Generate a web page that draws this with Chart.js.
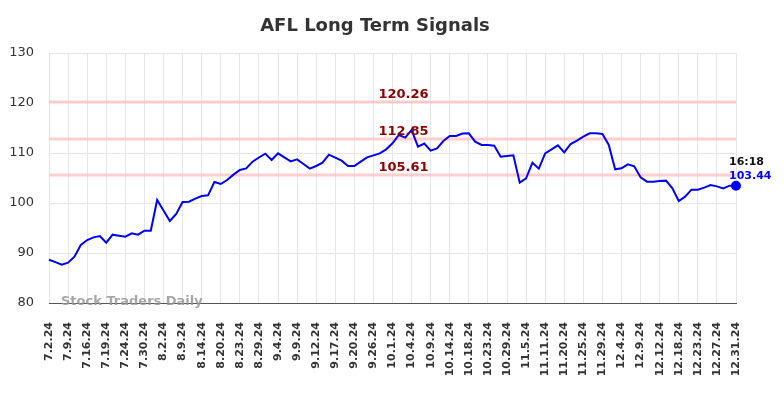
<!DOCTYPE html>
<html>
<head>
<meta charset="utf-8">
<script src="https://cdn.jsdelivr.net/npm/chart.js@4.4.1/dist/chart.umd.min.js"></script>
<style>
  html, body { margin: 0; padding: 0; background: #ffffff; }
  #wrap { width: 784px; height: 398px; position: relative; }
</style>
</head>
<body>
<div id="wrap"><canvas id="c" width="784" height="398"></canvas></div>
<script>
const chartTitle = "AFL Long Term Signals";
const watermark = "Stock Traders Daily";
const tickLabels = ["7.2.24","7.9.24","7.16.24","7.19.24","7.24.24","7.30.24","8.2.24","8.9.24","8.14.24","8.20.24","8.23.24","8.29.24","9.4.24","9.9.24","9.12.24","9.17.24","9.20.24","9.26.24","10.1.24","10.4.24","10.9.24","10.14.24","10.18.24","10.23.24","10.29.24","11.5.24","11.11.24","11.20.24","11.25.24","11.29.24","12.4.24","12.9.24","12.12.24","12.18.24","12.23.24","12.27.24","12.31.24"];
const pointsPerTick = 3;
const prices = [
  88.66, 88.17, 87.67, 88.07, 89.27, 91.6, 92.6, 93.13, 93.4, 92.07,
  93.67, 93.47, 93.27, 93.93, 93.67, 94.47, 94.47, 100.6, 98.5, 96.4,
  97.8, 100.2, 100.27, 100.87, 101.4, 101.53, 104.2, 103.8, 104.6, 105.67,
  106.6, 106.93, 108.27, 109.1, 109.87, 108.6, 109.93, 109.13, 108.33, 108.73,
  107.8, 106.87, 107.4, 108.07, 109.67, 109.07, 108.47, 107.4, 107.4, 108.27,
  109.13, 109.53, 109.93, 110.73, 111.93, 113.6, 113.07, 114.6, 111.27, 111.9,
  110.47, 110.93, 112.4, 113.4, 113.4, 113.9, 113.93, 112.27, 111.6, 111.6,
  111.47, 109.27, 109.4, 109.53, 104.07, 104.93, 108.07, 106.87, 109.93, 110.73,
  111.53, 110.13, 111.8, 112.47, 113.27, 113.93, 113.93, 113.8, 111.6, 106.73,
  106.93, 107.73, 107.33, 105.13, 104.27, 104.27, 104.4, 104.47, 102.93, 100.4,
  101.27, 102.67, 102.67, 103.07, 103.6, 103.33, 102.93, 103.47, 103.44
];
const signalLevels = [120.26, 112.85, 105.61];
const lastTime = "16:18";
const lastValueText = "103.44";
const yMin = 80, yMax = 130, yStep = 10;

// categories: one per data point, labelled where a tick label exists
const categories = [];
tickLabels.forEach((t, i) => {
  categories.push(t);
  if (i < tickLabels.length - 1) for (let k = 1; k < pointsPerTick; k++) categories.push('');
});

const FONT = "'DejaVu Sans', sans-serif";

const overlayPlugin = {
  id: 'overlay',
  beforeDatasetsDraw(chart) {
    const ctx = chart.ctx, y = chart.scales.y, area = chart.chartArea;
    ctx.save();
    ctx.strokeStyle = 'rgba(255,190,190,0.75)';
    ctx.lineWidth = 3;
    signalLevels.forEach(v => {
      const py = Math.round(y.getPixelForValue(v));
      ctx.beginPath();
      ctx.moveTo(area.left, py);
      ctx.lineTo(area.right, py);
      ctx.stroke();
    });
    ctx.restore();
  },
  afterDatasetsDraw(chart) {
    const ctx = chart.ctx, x = chart.scales.x, y = chart.scales.y, area = chart.chartArea;
    ctx.save();
    // level labels
    ctx.font = "bold 13px " + FONT;
    ctx.fillStyle = '#8b0000';
    ctx.textAlign = 'center';
    ctx.textBaseline = 'middle';
    const cx = (area.left + area.right) / 2 + 11;
    signalLevels.forEach(v => {
      const py = y.getPixelForValue(v);
      ctx.fillText(v.toFixed(2), cx, py - 7.5);
    });
    // watermark
    ctx.font = "bold 13px " + FONT;
    ctx.fillStyle = 'rgba(150,150,150,0.85)';
    ctx.textAlign = 'left';
    ctx.fillText(watermark, area.left + 12, area.bottom - 1);
    // last point labels
    const li = prices.length - 1;
    const lx = x.getPixelForValue(li), ly = y.getPixelForValue(prices[li]);
    ctx.font = "bold 11px " + FONT;
    ctx.textAlign = 'left';
    ctx.fillStyle = '#111';
    ctx.fillText(lastTime, lx - 7, ly - 24);
    ctx.fillStyle = '#0000ff';
    ctx.fillText(lastValueText, lx - 7, ly - 10);
    // title
    ctx.font = "bold 18px " + FONT;
    ctx.fillStyle = '#333';
    ctx.textAlign = 'center';
    ctx.fillText(chartTitle, 375, 26);
    ctx.restore();
  }
};

new Chart(document.getElementById('c'), {
  type: 'line',
  data: {
    labels: categories,
    datasets: [{
      data: prices,
      borderColor: '#0000ff',
      backgroundColor: '#0000ff',
      borderWidth: 2,
      tension: 0,
      pointRadius: prices.map((p, i) => i === prices.length - 1 ? 4 : 0),
      pointHoverRadius: 0,
      fill: false
    }]
  },
  options: {
    responsive: false,
    animation: false,
    events: [],
    layout: { padding: { top: 53, right: 48, bottom: 0, left: 0 } },
    plugins: { legend: { display: false }, title: { display: false }, tooltip: { enabled: false } },
    scales: {
      x: {
        type: 'category',
        offset: false,
        grid: {
          display: true,
          drawTicks: false,
          color: ctx => (ctx.tick && ctx.tick.label !== '' ? '#e6e6e6' : 'rgba(0,0,0,0)')
        },
        border: { display: true, color: '#555', width: 1 },
        ticks: {
          autoSkip: false,
          maxRotation: 90,
          minRotation: 90,
          padding: 19,
          color: '#333',
          font: { family: FONT, size: 11, weight: 'bold' },
          callback: function(v, i) { return categories[i]; }
        },
        afterFit: s => { s.height = 95; }
      },
      y: {
        min: yMin, max: yMax,
        grid: { color: '#e6e6e6', drawTicks: false },
        border: { display: false },
        ticks: {
          stepSize: yStep,
          padding: 15,
          color: '#333',
          font: { family: FONT, size: 13 }
        },
        afterFit: s => { s.width = 49; }
      }
    }
  },
  plugins: [overlayPlugin]
});
</script>
</body>
</html>
